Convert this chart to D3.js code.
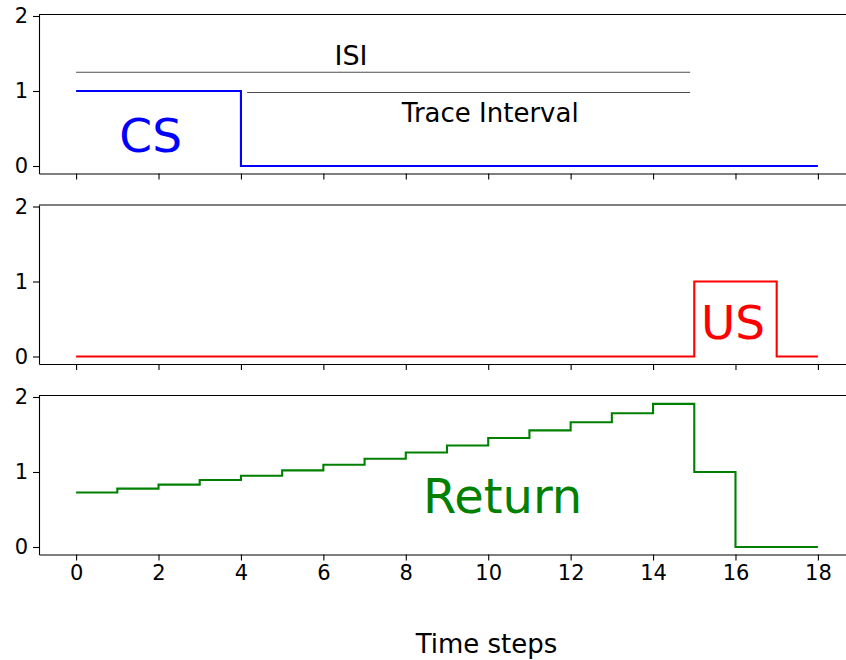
<!DOCTYPE html>
<html>
<head>
<meta charset="utf-8">
<script src="https://cdn.jsdelivr.net/npm/d3@7"></script>
<style>
  html, body { margin: 0; padding: 0; background: #fff; }
  svg { display: block; }
  text { font-family: "DejaVu Sans", sans-serif; }
</style>
</head>
<body>
<svg id="chart" width="846" height="660"></svg>
<script>
// Time axis: integer steps 0..18
const timeSteps = d3.range(0, 19);
const xTicks = [0, 2, 4, 6, 8, 10, 12, 14, 16, 18];
const yTicks = [0, 1, 2];

// Conditioned stimulus: on for steps 0-3
const csValues = [1, 1, 1, 1, 0, 0, 0, 0, 0, 0, 0, 0, 0, 0, 0, 0, 0, 0, 0];
// Unconditioned stimulus: on for steps 15-16
const usValues = [0, 0, 0, 0, 0, 0, 0, 0, 0, 0, 0, 0, 0, 0, 0, 1, 1, 0, 0];
// Discounted return at each step
const returnValues = [0.727, 0.779, 0.832, 0.894, 0.951, 1.022, 1.096, 1.176, 1.26,
                      1.353, 1.453, 1.555, 1.664, 1.783, 1.908, 1.0, 0, 0, 0];

// Interval markers in the CS panel
const isiSpan = [0, 14.9];
const isiLevel = 1.25;
const traceSpan = [4.15, 14.9];
const traceLevel = 0.98;

const svg = d3.select("#chart");

const x = d3.scaleLinear().domain([-0.9, 18.9]).range([39, 855]);
const panelHeight = 159;
const panelTops = [14.5, 205, 395.5];
const tickFont = 21;

const panels = [
  { values: csValues, color: "#0000ff", label: "CS", lx: 1.81, ly: 0.19, size: 47 },
  { values: usValues, color: "#ff0000", label: "US", lx: 15.94, ly: 0.236, size: 47 },
  { values: returnValues, color: "#008000", label: "Return", lx: 10.35, ly: 0.455, size: 48 }
];

panels.forEach((p, i) => {
  const top = panelTops[i];
  const y = d3.scaleLinear().domain([-0.1, 2.02]).range([top + panelHeight, top]);
  const g = svg.append("g");

  // step trace
  const line = d3.line()
    .x((d, j) => x(timeSteps[j]))
    .y(d => y(d))
    .curve(d3.curveStepAfter);
  g.append("path")
    .datum(p.values)
    .attr("fill", "none")
    .attr("stroke", p.color)
    .attr("stroke-width", 2.1)
    .attr("d", line);

  // y axis (left spine + ticks)
  const yAxis = d3.axisLeft(y).tickValues(yTicks).tickFormat(d3.format("d"))
    .tickSizeInner(6).tickSizeOuter(0).tickPadding(5);
  const ya = g.append("g").attr("transform", `translate(${x.range()[0]},0)`).call(yAxis);
  ya.select(".domain").attr("stroke", "#000").attr("stroke-width", 1.1);
  ya.selectAll(".tick line").attr("stroke", "#000").attr("stroke-width", 1.1);
  ya.selectAll(".tick text").attr("font-size", tickFont).attr("fill", "#000")
    .attr("font-family", "DejaVu Sans");

  // x axis (bottom spine + ticks)
  const xAxis = d3.axisBottom(x).tickValues(xTicks).tickFormat(d3.format("d"))
    .tickSizeInner(6).tickSizeOuter(0).tickPadding(5);
  const xa = g.append("g").attr("transform", `translate(0,${top + panelHeight})`).call(xAxis);
  xa.select(".domain").attr("stroke", "#000").attr("stroke-width", 1.1);
  xa.selectAll(".tick line").attr("stroke", "#000").attr("stroke-width", 1.1);
  xa.selectAll(".tick text").attr("font-size", tickFont).attr("fill", "#000")
    .attr("font-family", "DejaVu Sans");
  if (i < 2) xa.selectAll(".tick text").remove();

  // top spine
  g.append("line")
    .attr("x1", x.range()[0]).attr("x2", x.range()[1])
    .attr("y1", top).attr("y2", top)
    .attr("stroke", "#000").attr("stroke-width", 1.1);

  // big series label
  g.append("text")
    .attr("x", x(p.lx)).attr("y", y(p.ly))
    .attr("text-anchor", "middle")
    .attr("font-size", p.size)
    .attr("fill", p.color)
    .text(p.label);

  if (i === 0) {
    g.append("line")
      .attr("x1", x(isiSpan[0])).attr("x2", x(isiSpan[1]))
      .attr("y1", y(isiLevel)).attr("y2", y(isiLevel))
      .attr("stroke", "#4d4d4d").attr("stroke-width", 1.2);
    g.append("line")
      .attr("x1", x(traceSpan[0])).attr("x2", x(traceSpan[1]))
      .attr("y1", y(traceLevel)).attr("y2", y(traceLevel))
      .attr("stroke", "#4d4d4d").attr("stroke-width", 1.2);
    g.append("text")
      .attr("x", x(6.67)).attr("y", y(1.35))
      .attr("text-anchor", "middle").attr("font-size", 27).attr("fill", "#000")
      .text("ISI");
    g.append("text")
      .attr("x", x(10.05)).attr("y", y(0.59))
      .attr("text-anchor", "middle").attr("font-size", 26).attr("fill", "#000")
      .text("Trace Interval");
  }
});

// shared x-axis title
svg.append("text")
  .attr("x", 486.5).attr("y", 653)
  .attr("text-anchor", "middle")
  .attr("font-size", 26)
  .attr("fill", "#000")
  .text("Time steps");
</script>
</body>
</html>
